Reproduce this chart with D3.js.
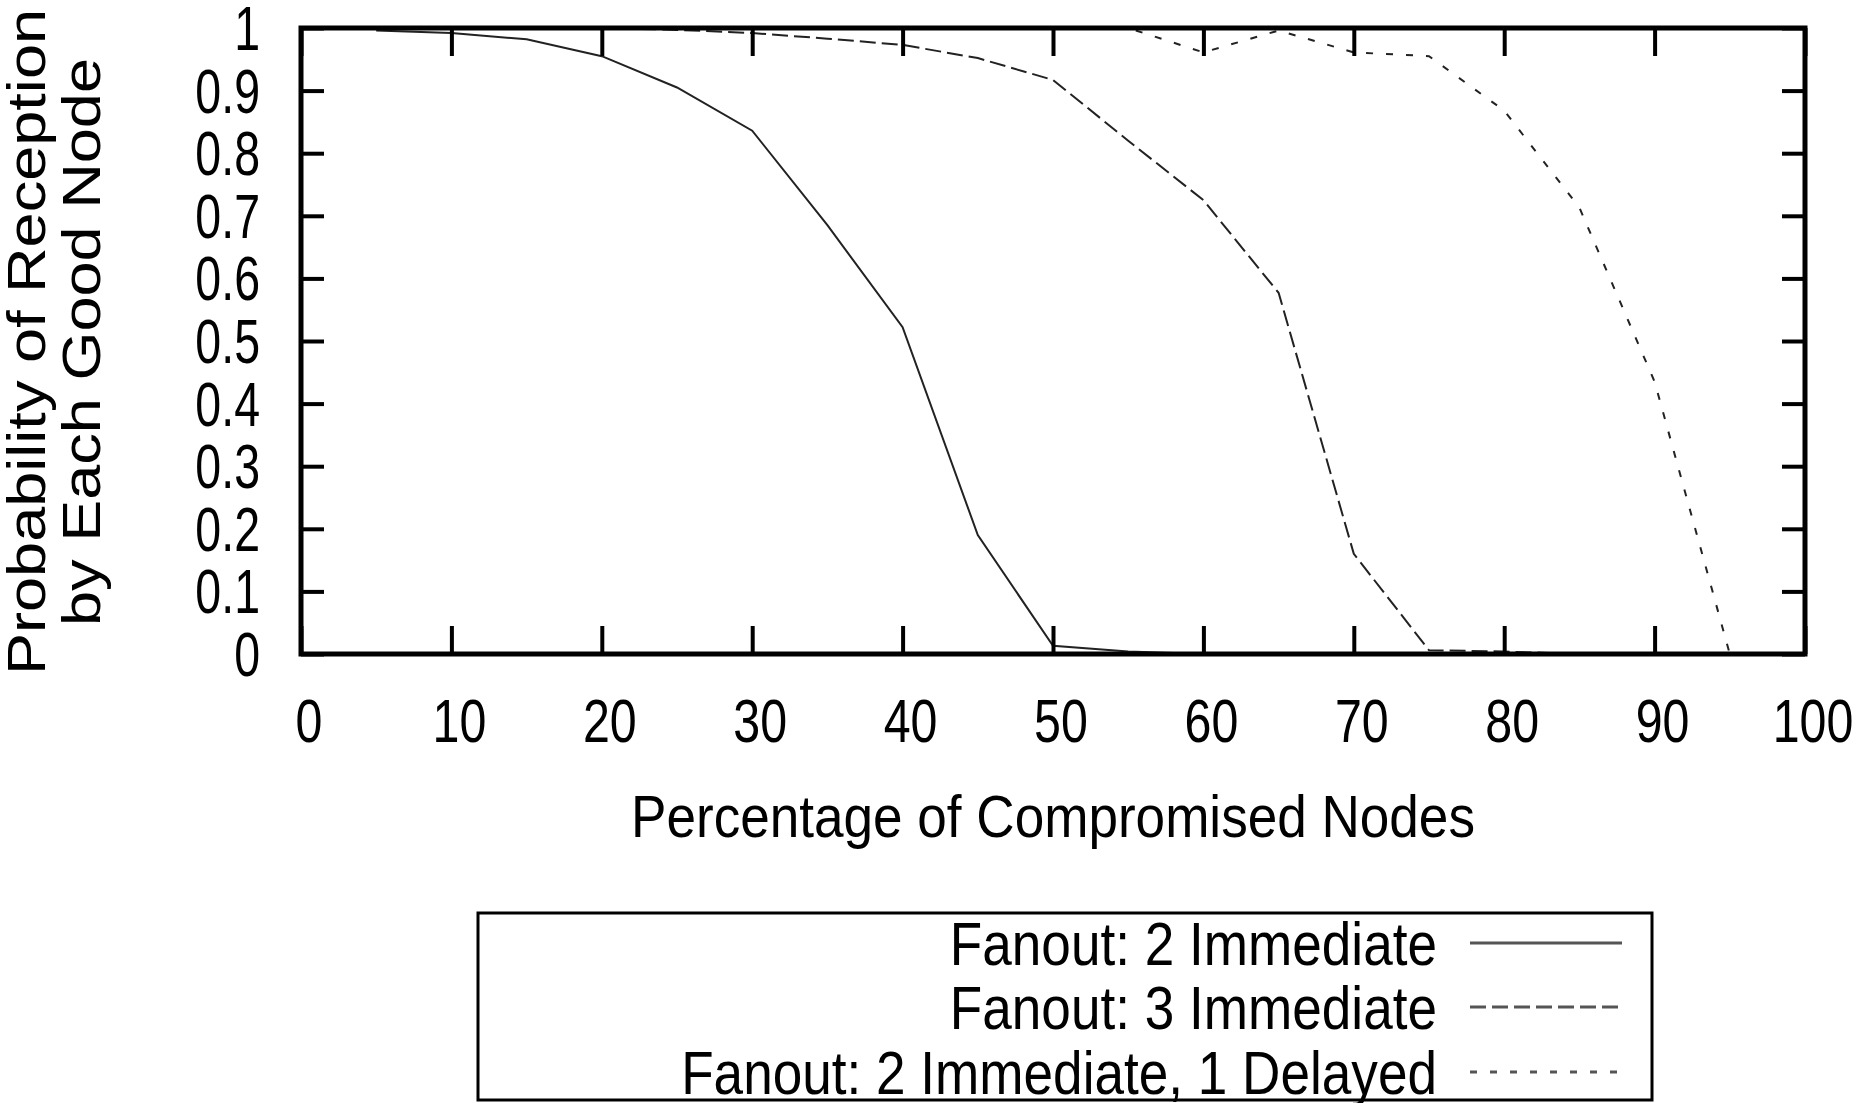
<!DOCTYPE html>
<html lang="en">
<head>
<meta charset="UTF-8">
<title>Probability of Reception</title>
<script src="https://cdn.jsdelivr.net/npm/d3@7"></script>
<style>
  body { margin: 0; background: #fff; }
  text { font-family: "Liberation Sans", Arial, sans-serif; fill: #000; }
</style>
</head>
<body>
<svg id="chart"></svg>
<script>
// data
var compromised = [5, 10, 15, 20, 25, 30, 35, 40, 45, 50, 55, 60, 65, 70, 75, 80, 85, 90, 95];
var fanout2 = [0.996, 0.992, 0.982, 0.955, 0.905, 0.836, 0.685, 0.522, 0.19, 0.013, 0.004, 0, 0, 0, 0, 0, 0, 0, 0];
var fanout3 = [1, 1, 1, 1, 0.997, 0.992, 0.983, 0.973, 0.952, 0.917, 0.82, 0.725, 0.577, 0.16, 0.006, 0.004, 0, 0, 0];
var fanout2d1 = [1, 1, 1, 1, 1, 1, 1, 1, 1, 1, 1, 0.961, 0.996, 0.961, 0.955, 0.868, 0.713, 0.435, 0];
var seriesNames = ["Fanout: 2 Immediate", "Fanout: 3 Immediate", "Fanout: 2 Immediate, 1 Delayed"];
var xTicks = [0, 10, 20, 30, 40, 50, 60, 70, 80, 90, 100];
var yTicks = [0, 0.1, 0.2, 0.3, 0.4, 0.5, 0.6, 0.7, 0.8, 0.9, 1];

drawChart();

function drawChart() {
    var width = 1858, height = 1103;
    var plotLeft = 301, plotRight = 1805, plotTop = 28, plotBottom = 654;

    var svg = d3.select("#chart").attr("width", width).attr("height", height);

    var x = d3.scaleLinear().domain([0, 100]).range([plotLeft, plotRight]);
    var y = d3.scaleLinear().domain([0, 1]).range([plotBottom, plotTop]);

    // text in the picture is squeezed sideways, so scale it around its anchor
    function label(parent, px, py, str, size, sx, anchor, rot) {
        var t = "translate(" + px + "," + py + ")" + (rot ? " rotate(" + rot + ")" : "") + " scale(" + sx + ",1)";
        return parent.append("text")
            .attr("transform", t)
            .attr("text-anchor", anchor)
            .style("font-size", size + "px")
            .text(str);
    }

    var dashes = [null, "16,6", "7,13"];
    var series = [fanout2, fanout3, fanout2d1];

    // lines
    var line = d3.line()
        .x(function (d) { return x(d[0]); })
        .y(function (d) { return y(d[1]); });

    series.forEach(function (vals, i) {
        var pts = compromised.map(function (c, j) { return [c, vals[j]]; });
        svg.append("path")
            .attr("d", line(pts))
            .attr("fill", "none")
            .attr("stroke", "#222")
            .attr("stroke-width", 2)
            .attr("stroke-dasharray", dashes[i]);
    });

    // ticks on all four sides, pointing inward
    function ticksOnly(g) {
        g.select(".domain").remove();
        g.selectAll("text").remove();
        g.selectAll(".tick line").attr("stroke", "#000").attr("stroke-width", 4);
    }
    svg.append("g").attr("transform", "translate(0," + plotBottom + ")")
        .call(d3.axisBottom(x).tickValues(xTicks).tickSize(-28)).call(ticksOnly);
    svg.append("g").attr("transform", "translate(0," + plotTop + ")")
        .call(d3.axisTop(x).tickValues(xTicks).tickSize(-28)).call(ticksOnly);
    svg.append("g").attr("transform", "translate(" + plotLeft + ",0)")
        .call(d3.axisLeft(y).tickValues(yTicks).tickSize(-23)).call(ticksOnly);
    svg.append("g").attr("transform", "translate(" + plotRight + ",0)")
        .call(d3.axisRight(y).tickValues(yTicks).tickSize(-23)).call(ticksOnly);

    // frame
    svg.append("rect")
        .attr("x", plotLeft).attr("y", plotTop)
        .attr("width", plotRight - plotLeft).attr("height", plotBottom - plotTop)
        .attr("fill", "none").attr("stroke", "#000").attr("stroke-width", 5);

    // tick labels
    xTicks.forEach(function (v) {
        label(svg, x(v) + 8, 742, String(v), 62, 0.78, "middle");
    });
    yTicks.forEach(function (v) {
        label(svg, 260, y(v) + 22, String(v), 62, 0.75, "end");
    });

    // axis titles
    label(svg, (plotLeft + plotRight) / 2, 837, "Percentage of Compromised Nodes", 59, 0.9, "middle");
    label(svg, 45, 342, "Probability of Reception", 53, 1.19, "middle", -90);
    label(svg, 100, 342, "by Each Good Node", 53, 1.19, "middle", -90);

    // legend
    svg.append("rect")
        .attr("x", 478).attr("y", 913)
        .attr("width", 1652 - 478).attr("height", 1100 - 913)
        .attr("fill", "none").attr("stroke", "#000").attr("stroke-width", 3);

    var rowY = [943, 1007, 1072];
    seriesNames.forEach(function (name, i) {
        label(svg, 1437, rowY[i] + 22, name, 62, 0.857, "end");
        svg.append("line")
            .attr("x1", 1470).attr("x2", 1622)
            .attr("y1", rowY[i]).attr("y2", rowY[i])
            .attr("stroke", "#555")
            .attr("stroke-width", 3)
            .attr("stroke-dasharray", dashes[i]);
    });
}
</script>
</body>
</html>
